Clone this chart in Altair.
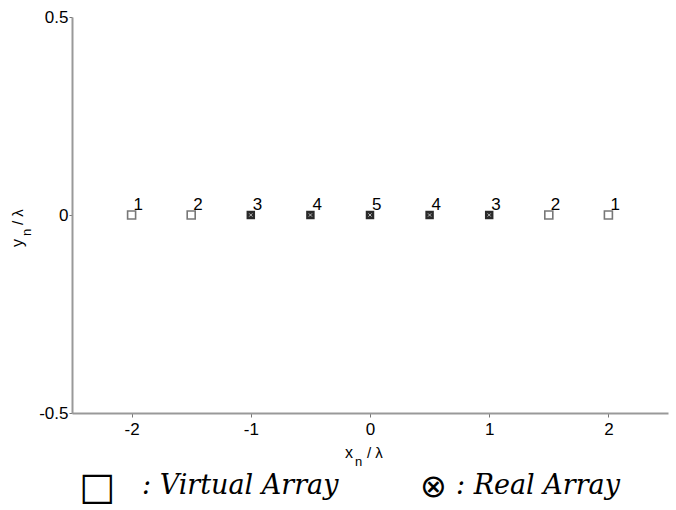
import altair as alt
import pandas as pd

xs = [-2, -1.5, -1, -0.5, 0, 0.5, 1, 1.5, 2]
ys = [0, 0, 0, 0, 0, 0, 0, 0, 0]
labels = ["1", "2", "3", "4", "5", "4", "3", "2", "1"]
kinds = ["Virtual", "Virtual", "Real", "Real", "Real", "Real", "Real", "Virtual", "Virtual"]
x_ticks = [-2, -1, 0, 1, 2]
y_ticks = [-0.5, 0, 0.5]

df = pd.DataFrame({"x": xs, "y": ys, "label": labels, "kind": kinds})

W, H = 596, 396
xscale = alt.Scale(domain=[-2.5, 2.5], nice=False, zero=False)
yscale = alt.Scale(domain=[-0.5, 0.5], nice=False, zero=False)

base = alt.Chart(df).encode(
    x=alt.X("x:Q", scale=xscale,
            axis=alt.Axis(values=x_ticks, title=None, grid=False,
                          labelExpr="toString(datum.value)",
                          domainColor="#999999", domainWidth=2, tickColor="#777777",
                          tickSize=4, labelFont="Liberation Sans", labelFontSize=17,
                          labelColor="#000000", labelPadding=4)),
    y=alt.Y("y:Q", scale=yscale,
            axis=alt.Axis(values=y_ticks, title=None, grid=False,
                          domainColor="#999999", domainWidth=2, tickColor="#777777",
                          tickSize=3, labelFont="Liberation Sans", labelFontSize=17,
                          labelColor="#000000", labelPadding=1,
                          labelExpr="toString(datum.value)")),
)

virtual = base.transform_filter(alt.datum.kind == "Virtual").mark_point(
    shape="square", size=64, filled=False, stroke="#777777", strokeWidth=1.6, opacity=1
)
real = base.transform_filter(alt.datum.kind == "Real").mark_point(
    shape="square", size=72, filled=True, fill="#2a2a2a", opacity=1
)
real_x = base.transform_filter(alt.datum.kind == "Real").mark_point(
    shape="M-1,-1L1,1M-1,1L1,-1", size=10, filled=False, stroke="#bbbbbb", strokeWidth=1, opacity=1
)
nums = base.mark_text(
    align="left", baseline="alphabetic", dx=2, dy=-5, font="Liberation Sans",
    fontSize=17, color="#000000"
).encode(text="label:N")


def txt(s, x, y, size, angle=0, font="Liberation Sans", style="normal", align="left"):
    kw = dict(align=align, baseline="alphabetic", font=font, fontSize=size,
              color="#000000", fontStyle=style)
    if angle:
        kw["angle"] = angle
    return alt.Chart(pd.DataFrame({"t": [s]})).mark_text(**kw).encode(
        x=alt.value(x), y=alt.value(y), text="t:N")


# pixel positions relative to plot origin at (72,17)
ox, oy = 72, 17
xt = [
    txt("x", 345 - ox, 458 - oy, 16),
    txt("n", 355 - ox, 466 - oy, 13),
    txt("/ λ", 367 - ox, 458 - oy, 15),
]
yt = [
    txt("y", 23 - ox, 247 - oy, 16, angle=270),
    txt("n", 31 - ox, 236 - oy, 13, angle=270),
    txt("/ λ", 23 - ox, 225 - oy, 15, angle=270),
]
legend = [
    txt("□", 79 - ox, 499 - oy, 38, font="DejaVu Sans"),
    txt(": Virtual Array", 142 - ox, 494 - oy, 27, font="DejaVu Serif", style="italic"),
    txt("⊗", 420 - ox, 497 - oy, 32, font="DejaVu Sans"),
    txt(": Real Array", 456 - ox, 494 - oy, 27, font="DejaVu Serif", style="italic"),
]

chart = alt.layer(virtual, real, real_x, nums, *xt, *yt, *legend).properties(
    width=W, height=H,
    background="white",
    autosize=alt.AutoSizeParams(type="none"),
    padding={"left": ox, "top": oy, "right": 676 - ox - W, "bottom": 510 - oy - H},
).configure_view(strokeWidth=0, stroke="transparent")

chart.save("out.html", embed_options={"renderer": "svg", "actions": False})
